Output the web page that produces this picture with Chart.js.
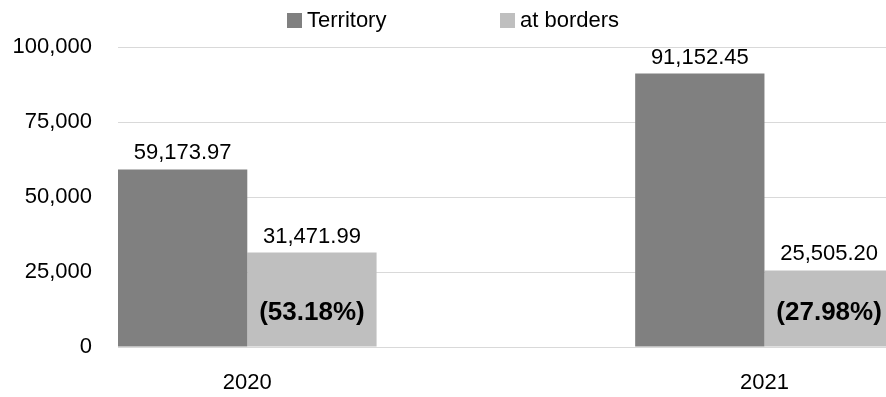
<!DOCTYPE html>
<html>
<head>
<meta charset="utf-8">
<script src="https://cdn.jsdelivr.net/npm/chart.js@4.4.1/dist/chart.umd.min.js"></script>
<style>
  html, body { margin: 0; padding: 0; background: #fff; }
  #wrap { position: relative; width: 886px; height: 397px; }
  #legend { position: absolute; top: 7px; left: 0; font: 22px 'Liberation Sans', Arial, sans-serif; color: #000; }
  #legend .item { position: absolute; top: 0; display: flex; align-items: center; white-space: nowrap; }
  #legend .box { width: 15px; height: 15px; margin-right: 5px; }
</style>
</head>
<body>
<div id="wrap">
  <canvas id="chart"></canvas>
  <div id="legend"></div>
</div>
<script>
/*--Data--*/
var categories = ['2020', '2021'];
var seriesNames = ['Territory', 'at borders'];
var territory = [59173.97, 91152.45];
var atBorders = [31471.99, 25505.20];
var yTicks = [0, 25000, 50000, 75000, 100000];
var seriesColors = ['#808080', '#bfbfbf'];
/*--------*/

var FONT = "'Liberation Sans', Arial, sans-serif";

function fmtValue(v) {
  return v.toLocaleString('en-US', { minimumFractionDigits: 2, maximumFractionDigits: 2 });
}

function toPoints(values) {
  return values.map(function (v, i) { return { x: Number(categories[i]), y: v }; });
}

// value above every bar, share of borders inside the light bars
var barLabels = {
  id: 'barLabels',
  afterDatasetsDraw: function (chart) {
    var ctx = chart.ctx;
    ctx.save();
    ctx.fillStyle = '#000';
    ctx.textAlign = 'center';
    ctx.textBaseline = 'alphabetic';
    ctx.font = '22px ' + FONT;
    chart.data.datasets.forEach(function (ds, di) {
      chart.getDatasetMeta(di).data.forEach(function (bar, i) {
        ctx.fillText(fmtValue(ds.data[i].y), bar.x, bar.y - 10);
      });
    });
    var zero = chart.scales.y.getPixelForValue(0);
    ctx.font = 'bold 26px ' + FONT;
    chart.getDatasetMeta(1).data.forEach(function (bar, i) {
      var share = Math.floor(atBorders[i] / territory[i] * 10000) / 100;
      ctx.fillText('(' + share.toFixed(2) + '%)', bar.x, zero - 27);
    });
    ctx.restore();
  }
};

var chart = new Chart('chart', {
  type: 'bar',
  data: {
    datasets: [
      { label: seriesNames[0], data: toPoints(territory), backgroundColor: seriesColors[0] },
      { label: seriesNames[1], data: toPoints(atBorders), backgroundColor: seriesColors[1] }
    ]
  },
  options: {
    responsive: true,
    maintainAspectRatio: false,
    animation: false,
    categoryPercentage: 0.5,
    barPercentage: 1,
    layout: { padding: { top: 47, right: 0, left: 0, bottom: 0 } },
    plugins: {
      legend: { display: false },
      tooltip: { enabled: false }
    },
    scales: {
      x: {
        type: 'linear',
        offset: false,
        min: Number(categories[0]) - 0.25,
        max: Number(categories[categories.length - 1]) + 0.235,
        grid: { display: false },
        border: { display: false },
        ticks: {
          stepSize: 1,
          includeBounds: false,
          padding: 15,
          color: '#000',
          font: { family: FONT, size: 22 },
          callback: function (v) { return String(v); }
        },
        afterFit: function (scale) { scale.height = 50; }
      },
      y: {
        min: yTicks[0],
        max: yTicks[yTicks.length - 1],
        grid: { color: '#d9d9d9', lineWidth: 1, drawTicks: false },
        border: { display: false },
        ticks: {
          stepSize: yTicks[1] - yTicks[0],
          padding: 26,
          color: '#000',
          font: { family: FONT, size: 22 },
          callback: function (v) { return v.toLocaleString('en-US'); }
        },
        afterFit: function (scale) { scale.width = 118; }
      }
    }
  },
  plugins: [barLabels]
});

/*--Legend--*/
var legendLeft = [287, 500];
var legend = document.getElementById('legend');
chart.data.datasets.forEach(function (ds, i) {
  var item = document.createElement('div');
  item.className = 'item';
  item.style.left = legendLeft[i] + 'px';
  var box = document.createElement('span');
  box.className = 'box';
  box.style.background = ds.backgroundColor;
  item.appendChild(box);
  item.appendChild(document.createTextNode(ds.label));
  legend.appendChild(item);
});
/*----------*/
</script>
</body>
</html>
